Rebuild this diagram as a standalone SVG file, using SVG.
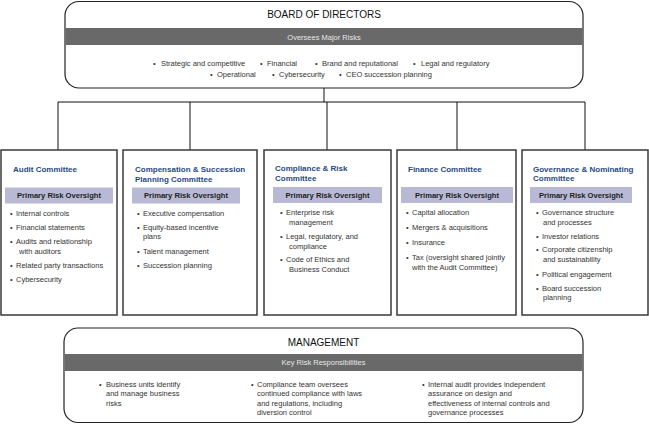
<svg xmlns="http://www.w3.org/2000/svg" width="649" height="425" viewBox="0 0 649 425">
<style>
text{font-family:"Liberation Sans",Arial,sans-serif;fill:#333}
.hd{font-size:10px;fill:#111;text-anchor:middle}
.band{fill:#696969}
.bt{font-size:7.5px;fill:#e6e6e6;text-anchor:middle}
.it{font-size:7.5px}
.ti{font-size:8px;font-weight:bold;fill:#1f4a85}
.pb{fill:#b8b9d4}
.pt{font-size:7.6px;font-weight:bold;fill:#222;text-anchor:middle}
.big{fill:#fff;stroke:#222;stroke-width:1.2}
.cb{fill:#fff;stroke:#3a3a3a;stroke-width:1.5}
.cn{fill:none;stroke:#111;stroke-width:1}
</style>
<g id="connectors">
<path class="cn" d="M324,88V102M58,150V102H585V150M190,102V150M327,102V150M457,102V150"/>
</g>
<g id="board">
<rect class="big" x="65" y="1.5" width="518" height="86.5" rx="14"/>
<rect class="band" x="65.6" y="28" width="516.8" height="17"/>
<text class="hd" x="324" y="18">BOARD OF DIRECTORS</text>
<text class="bt" x="324" y="39.5">Oversees Major Risks</text>
<g class="it">
<text x="153" y="66">•</text><text x="161" y="66">Strategic and competitive</text>
<text x="260" y="66">•</text><text x="267" y="66">Financial</text>
<text x="315" y="66">•</text><text x="322" y="66">Brand and reputational</text>
<text x="413" y="66">•</text><text x="421" y="66">Legal and regulatory</text>
<text x="210" y="77">•</text><text x="217" y="77">Operational</text>
<text x="272" y="77">•</text><text x="279" y="77">Cybersecurity</text>
<text x="339" y="77">•</text><text x="346" y="77">CEO succession planning</text>
</g>
</g>
<g id="audit">
<rect class="cb" x="1" y="150" width="116" height="165"/>
<text class="ti" x="13" y="172">Audit Committee</text>
<rect class="pb" x="5" y="187.5" width="108" height="16"/>
<text class="pt" x="59" y="198.3">Primary Risk Oversight</text>
<g class="it">
<text x="10" y="215.5">•</text><text x="16" y="215.5">Internal controls</text>
<text x="10" y="229.5">•</text><text x="16" y="229.5">Financial statements</text>
<text x="10" y="244">•</text><text x="16" y="244">Audits and relationship</text>
<text x="19" y="253.5">with auditors</text>
<text x="10" y="268">•</text><text x="16" y="268">Related party transactions</text>
<text x="10" y="282">•</text><text x="16" y="282">Cybersecurity</text>
</g>
</g>
<g id="compensation">
<rect class="cb" x="123" y="150" width="134" height="165"/>
<text class="ti" x="135" y="172">Compensation &amp; Succession</text>
<text class="ti" x="135" y="181.5">Planning Committee</text>
<rect class="pb" x="132" y="187.5" width="108" height="16"/>
<text class="pt" x="186" y="198.3">Primary Risk Oversight</text>
<g class="it">
<text x="137" y="215.5">•</text><text x="143" y="215.5">Executive compensation</text>
<text x="137" y="229.5">•</text><text x="143" y="229.5">Equity-based incentive</text>
<text x="143" y="239">plans</text>
<text x="137" y="253.5">•</text><text x="143" y="253.5">Talent management</text>
<text x="137" y="268">•</text><text x="143" y="268">Succession planning</text>
</g>
</g>
<g id="compliance">
<rect class="cb" x="264" y="150" width="127" height="165"/>
<text class="ti" x="275" y="171">Compliance &amp; Risk</text>
<text class="ti" x="275" y="181">Committee</text>
<rect class="pb" x="273" y="187" width="109" height="16"/>
<text class="pt" x="327.5" y="197.8">Primary Risk Oversight</text>
<g class="it">
<text x="280" y="215">•</text><text x="286" y="215">Enterprise risk</text>
<text x="289" y="224.5">management</text>
<text x="280" y="239">•</text><text x="286" y="239">Legal, regulatory, and</text>
<text x="289" y="248.5">compliance</text>
<text x="280" y="262">•</text><text x="286" y="262">Code of Ethics and</text>
<text x="289" y="271.5">Business Conduct</text>
</g>
</g>
<g id="finance">
<rect class="cb" x="397" y="150" width="119" height="165"/>
<text class="ti" x="408" y="172">Finance Committee</text>
<rect class="pb" x="401" y="187" width="112" height="16"/>
<text class="pt" x="457" y="197.8">Primary Risk Oversight</text>
<g class="it">
<text x="406" y="215">•</text><text x="412" y="215">Capital allocation</text>
<text x="406" y="230">•</text><text x="412" y="230">Mergers &amp; acquisitions</text>
<text x="406" y="244.5">•</text><text x="412" y="244.5">Insurance</text>
<text x="406" y="259.5">•</text><text x="412" y="259.5">Tax (oversight shared jointly</text>
<text x="412" y="269.5">with the Audit Committee)</text>
</g>
</g>
<g id="governance">
<rect class="cb" x="522" y="150" width="126" height="165"/>
<text class="ti" x="533" y="172">Governance &amp; Nominating</text>
<text class="ti" x="533" y="181">Committee</text>
<rect class="pb" x="530" y="187" width="102" height="16"/>
<text class="pt" x="581" y="197.8">Primary Risk Oversight</text>
<g class="it">
<text x="536" y="215">•</text><text x="542" y="215">Governance structure</text>
<text x="543" y="224.5">and processes</text>
<text x="536" y="239">•</text><text x="542" y="239">Investor relations</text>
<text x="536" y="252">•</text><text x="542" y="252">Corporate citizenship</text>
<text x="543" y="262">and sustainability</text>
<text x="536" y="276.5">•</text><text x="542" y="276.5">Political engagement</text>
<text x="536" y="291">•</text><text x="542" y="291">Board succession</text>
<text x="543" y="300">planning</text>
</g>
</g>
<g id="management">
<rect class="big" x="64" y="328" width="519" height="94.5" rx="14"/>
<rect class="band" x="64.6" y="354" width="517.8" height="17"/>
<text class="hd" x="323.5" y="345.5">MANAGEMENT</text>
<text class="bt" x="323.5" y="365">Key Risk Responsibilities</text>
<g class="it">
<text x="99" y="386.5">•</text><text x="106" y="386.5">Business units identify</text>
<text x="106" y="396">and manage business</text>
<text x="106" y="405.5">risks</text>
<text x="251" y="386.5">•</text><text x="257" y="386.5">Compliance team oversees</text>
<text x="257" y="396">continued compliance with laws</text>
<text x="257" y="405.5">and regulations, including</text>
<text x="257" y="415">diversion control</text>
<text x="422" y="386.5">•</text><text x="428" y="386.5">Internal audit provides independent</text>
<text x="428" y="396">assurance on design and</text>
<text x="428" y="405.5">effectiveness of internal controls and</text>
<text x="428" y="415">governance processes</text>
</g>
</g>
</svg>
